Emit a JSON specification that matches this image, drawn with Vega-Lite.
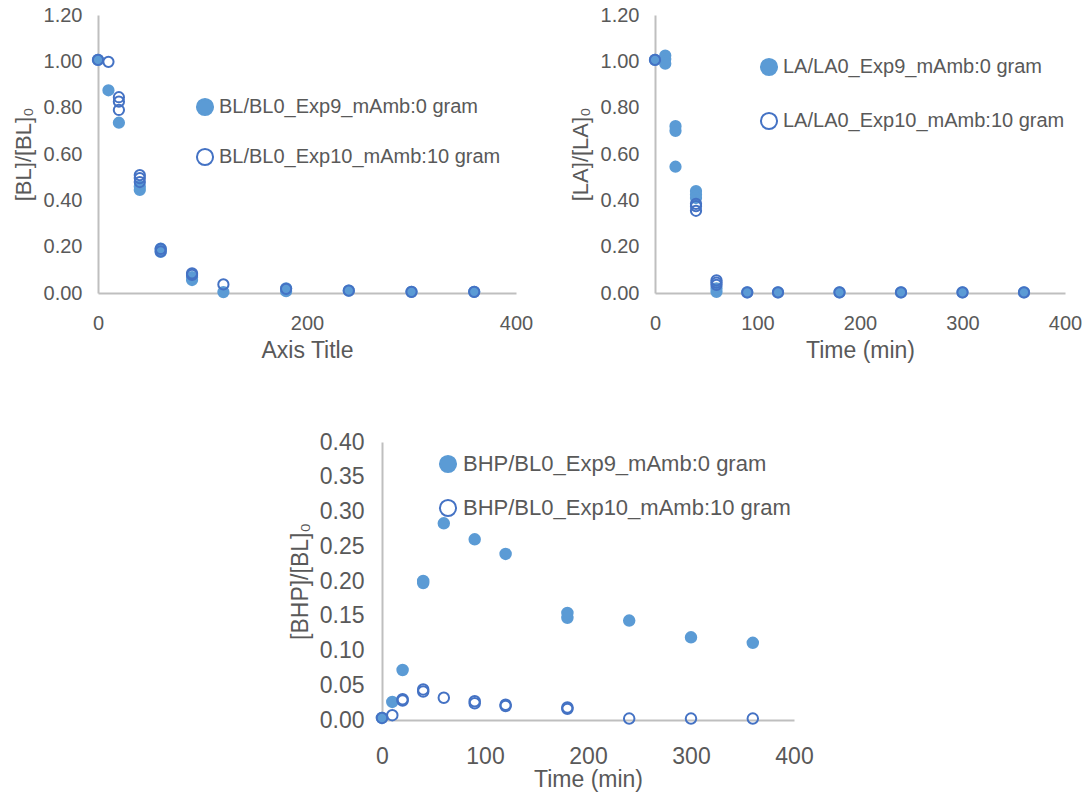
{
  "$schema": "https://vega.github.io/schema/vega-lite/v6.json",
  "background": "white",
  "padding": {"left": 12, "top": 5, "right": 2, "bottom": 5},
  "config": {
    "view": {"stroke": null},
    "font": "Liberation Sans",
    "axis": {
      "domainColor": "#BFBFBF", "domainWidth": 2, "grid": false, "ticks": false, "tickSize": 0, "labelFlush": false,
      "labelColor": "#595959", "titleColor": "#595959", "titleFontWeight": "normal",
      "labelFont": "Liberation Sans", "titleFont": "Liberation Sans"
    },
    "legend": {
      "labelColor": "#595959", "labelFont": "Liberation Sans", "symbolType": "circle", "labelLimit": 0,
      "symbolSize": 260, "symbolStrokeWidth": 2, "labelOffset": 4, "padding": 0, "title": null
    }
  },
  "datasets": {
    "d": [
      {"panel": "BL", "series": "BL/BL0_Exp9_mAmb:0 gram", "time": 0, "value": 1.006},
      {"panel": "BL", "series": "BL/BL0_Exp9_mAmb:0 gram", "time": 10, "value": 0.875},
      {"panel": "BL", "series": "BL/BL0_Exp9_mAmb:0 gram", "time": 20, "value": 0.735},
      {"panel": "BL", "series": "BL/BL0_Exp9_mAmb:0 gram", "time": 40, "value": 0.445},
      {"panel": "BL", "series": "BL/BL0_Exp9_mAmb:0 gram", "time": 40, "value": 0.46},
      {"panel": "BL", "series": "BL/BL0_Exp9_mAmb:0 gram", "time": 60, "value": 0.177},
      {"panel": "BL", "series": "BL/BL0_Exp9_mAmb:0 gram", "time": 60, "value": 0.192},
      {"panel": "BL", "series": "BL/BL0_Exp9_mAmb:0 gram", "time": 90, "value": 0.056},
      {"panel": "BL", "series": "BL/BL0_Exp9_mAmb:0 gram", "time": 90, "value": 0.068},
      {"panel": "BL", "series": "BL/BL0_Exp9_mAmb:0 gram", "time": 120, "value": 0.004},
      {"panel": "BL", "series": "BL/BL0_Exp9_mAmb:0 gram", "time": 180, "value": 0.008},
      {"panel": "BL", "series": "BL/BL0_Exp9_mAmb:0 gram", "time": 180, "value": 0.02},
      {"panel": "BL", "series": "BL/BL0_Exp9_mAmb:0 gram", "time": 240, "value": 0.01},
      {"panel": "BL", "series": "BL/BL0_Exp9_mAmb:0 gram", "time": 300, "value": 0.005},
      {"panel": "BL", "series": "BL/BL0_Exp9_mAmb:0 gram", "time": 360, "value": 0.005},
      {"panel": "BL", "series": "BL/BL0_Exp10_mAmb:10 gram", "time": 0, "value": 1.006},
      {"panel": "BL", "series": "BL/BL0_Exp10_mAmb:10 gram", "time": 10, "value": 0.998},
      {"panel": "BL", "series": "BL/BL0_Exp10_mAmb:10 gram", "time": 20, "value": 0.845},
      {"panel": "BL", "series": "BL/BL0_Exp10_mAmb:10 gram", "time": 20, "value": 0.826},
      {"panel": "BL", "series": "BL/BL0_Exp10_mAmb:10 gram", "time": 20, "value": 0.79},
      {"panel": "BL", "series": "BL/BL0_Exp10_mAmb:10 gram", "time": 40, "value": 0.509},
      {"panel": "BL", "series": "BL/BL0_Exp10_mAmb:10 gram", "time": 40, "value": 0.496},
      {"panel": "BL", "series": "BL/BL0_Exp10_mAmb:10 gram", "time": 40, "value": 0.479},
      {"panel": "BL", "series": "BL/BL0_Exp10_mAmb:10 gram", "time": 60, "value": 0.18},
      {"panel": "BL", "series": "BL/BL0_Exp10_mAmb:10 gram", "time": 60, "value": 0.19},
      {"panel": "BL", "series": "BL/BL0_Exp10_mAmb:10 gram", "time": 90, "value": 0.078},
      {"panel": "BL", "series": "BL/BL0_Exp10_mAmb:10 gram", "time": 90, "value": 0.085},
      {"panel": "BL", "series": "BL/BL0_Exp10_mAmb:10 gram", "time": 120, "value": 0.037},
      {"panel": "BL", "series": "BL/BL0_Exp10_mAmb:10 gram", "time": 180, "value": 0.018},
      {"panel": "BL", "series": "BL/BL0_Exp10_mAmb:10 gram", "time": 240, "value": 0.01},
      {"panel": "BL", "series": "BL/BL0_Exp10_mAmb:10 gram", "time": 300, "value": 0.005},
      {"panel": "BL", "series": "BL/BL0_Exp10_mAmb:10 gram", "time": 360, "value": 0.005},

      {"panel": "LA", "series": "LA/LA0_Exp9_mAmb:0 gram", "time": 0, "value": 1.006},
      {"panel": "LA", "series": "LA/LA0_Exp9_mAmb:0 gram", "time": 10, "value": 1.025},
      {"panel": "LA", "series": "LA/LA0_Exp9_mAmb:0 gram", "time": 10, "value": 1.01},
      {"panel": "LA", "series": "LA/LA0_Exp9_mAmb:0 gram", "time": 10, "value": 0.99},
      {"panel": "LA", "series": "LA/LA0_Exp9_mAmb:0 gram", "time": 20, "value": 0.72},
      {"panel": "LA", "series": "LA/LA0_Exp9_mAmb:0 gram", "time": 20, "value": 0.70},
      {"panel": "LA", "series": "LA/LA0_Exp9_mAmb:0 gram", "time": 20, "value": 0.545},
      {"panel": "LA", "series": "LA/LA0_Exp9_mAmb:0 gram", "time": 40, "value": 0.44},
      {"panel": "LA", "series": "LA/LA0_Exp9_mAmb:0 gram", "time": 40, "value": 0.425},
      {"panel": "LA", "series": "LA/LA0_Exp9_mAmb:0 gram", "time": 40, "value": 0.41},
      {"panel": "LA", "series": "LA/LA0_Exp9_mAmb:0 gram", "time": 60, "value": 0.005},
      {"panel": "LA", "series": "LA/LA0_Exp9_mAmb:0 gram", "time": 60, "value": 0.02},
      {"panel": "LA", "series": "LA/LA0_Exp9_mAmb:0 gram", "time": 90, "value": 0.003},
      {"panel": "LA", "series": "LA/LA0_Exp9_mAmb:0 gram", "time": 120, "value": 0.003},
      {"panel": "LA", "series": "LA/LA0_Exp9_mAmb:0 gram", "time": 180, "value": 0.003},
      {"panel": "LA", "series": "LA/LA0_Exp9_mAmb:0 gram", "time": 240, "value": 0.003},
      {"panel": "LA", "series": "LA/LA0_Exp9_mAmb:0 gram", "time": 300, "value": 0.003},
      {"panel": "LA", "series": "LA/LA0_Exp9_mAmb:0 gram", "time": 360, "value": 0.003},
      {"panel": "LA", "series": "LA/LA0_Exp10_mAmb:10 gram", "time": 0, "value": 1.006},
      {"panel": "LA", "series": "LA/LA0_Exp10_mAmb:10 gram", "time": 40, "value": 0.385},
      {"panel": "LA", "series": "LA/LA0_Exp10_mAmb:10 gram", "time": 40, "value": 0.375},
      {"panel": "LA", "series": "LA/LA0_Exp10_mAmb:10 gram", "time": 40, "value": 0.355},
      {"panel": "LA", "series": "LA/LA0_Exp10_mAmb:10 gram", "time": 60, "value": 0.055},
      {"panel": "LA", "series": "LA/LA0_Exp10_mAmb:10 gram", "time": 60, "value": 0.045},
      {"panel": "LA", "series": "LA/LA0_Exp10_mAmb:10 gram", "time": 60, "value": 0.035},
      {"panel": "LA", "series": "LA/LA0_Exp10_mAmb:10 gram", "time": 90, "value": 0.003},
      {"panel": "LA", "series": "LA/LA0_Exp10_mAmb:10 gram", "time": 120, "value": 0.003},
      {"panel": "LA", "series": "LA/LA0_Exp10_mAmb:10 gram", "time": 180, "value": 0.003},
      {"panel": "LA", "series": "LA/LA0_Exp10_mAmb:10 gram", "time": 240, "value": 0.003},
      {"panel": "LA", "series": "LA/LA0_Exp10_mAmb:10 gram", "time": 300, "value": 0.003},
      {"panel": "LA", "series": "LA/LA0_Exp10_mAmb:10 gram", "time": 360, "value": 0.003},

      {"panel": "BHP", "series": "BHP/BL0_Exp9_mAmb:0 gram", "time": 0, "value": 0.003},
      {"panel": "BHP", "series": "BHP/BL0_Exp9_mAmb:0 gram", "time": 10, "value": 0.026},
      {"panel": "BHP", "series": "BHP/BL0_Exp9_mAmb:0 gram", "time": 20, "value": 0.072},
      {"panel": "BHP", "series": "BHP/BL0_Exp9_mAmb:0 gram", "time": 40, "value": 0.197},
      {"panel": "BHP", "series": "BHP/BL0_Exp9_mAmb:0 gram", "time": 40, "value": 0.2},
      {"panel": "BHP", "series": "BHP/BL0_Exp9_mAmb:0 gram", "time": 60, "value": 0.283},
      {"panel": "BHP", "series": "BHP/BL0_Exp9_mAmb:0 gram", "time": 90, "value": 0.26},
      {"panel": "BHP", "series": "BHP/BL0_Exp9_mAmb:0 gram", "time": 120, "value": 0.239},
      {"panel": "BHP", "series": "BHP/BL0_Exp9_mAmb:0 gram", "time": 180, "value": 0.147},
      {"panel": "BHP", "series": "BHP/BL0_Exp9_mAmb:0 gram", "time": 180, "value": 0.154},
      {"panel": "BHP", "series": "BHP/BL0_Exp9_mAmb:0 gram", "time": 240, "value": 0.143},
      {"panel": "BHP", "series": "BHP/BL0_Exp9_mAmb:0 gram", "time": 300, "value": 0.119},
      {"panel": "BHP", "series": "BHP/BL0_Exp9_mAmb:0 gram", "time": 360, "value": 0.111},
      {"panel": "BHP", "series": "BHP/BL0_Exp10_mAmb:10 gram", "time": 0, "value": 0.003},
      {"panel": "BHP", "series": "BHP/BL0_Exp10_mAmb:10 gram", "time": 10, "value": 0.007},
      {"panel": "BHP", "series": "BHP/BL0_Exp10_mAmb:10 gram", "time": 20, "value": 0.028},
      {"panel": "BHP", "series": "BHP/BL0_Exp10_mAmb:10 gram", "time": 20, "value": 0.03},
      {"panel": "BHP", "series": "BHP/BL0_Exp10_mAmb:10 gram", "time": 40, "value": 0.041},
      {"panel": "BHP", "series": "BHP/BL0_Exp10_mAmb:10 gram", "time": 40, "value": 0.044},
      {"panel": "BHP", "series": "BHP/BL0_Exp10_mAmb:10 gram", "time": 60, "value": 0.032},
      {"panel": "BHP", "series": "BHP/BL0_Exp10_mAmb:10 gram", "time": 90, "value": 0.024},
      {"panel": "BHP", "series": "BHP/BL0_Exp10_mAmb:10 gram", "time": 90, "value": 0.027},
      {"panel": "BHP", "series": "BHP/BL0_Exp10_mAmb:10 gram", "time": 120, "value": 0.02},
      {"panel": "BHP", "series": "BHP/BL0_Exp10_mAmb:10 gram", "time": 120, "value": 0.022},
      {"panel": "BHP", "series": "BHP/BL0_Exp10_mAmb:10 gram", "time": 180, "value": 0.016},
      {"panel": "BHP", "series": "BHP/BL0_Exp10_mAmb:10 gram", "time": 180, "value": 0.018},
      {"panel": "BHP", "series": "BHP/BL0_Exp10_mAmb:10 gram", "time": 240, "value": 0.002},
      {"panel": "BHP", "series": "BHP/BL0_Exp10_mAmb:10 gram", "time": 300, "value": 0.002},
      {"panel": "BHP", "series": "BHP/BL0_Exp10_mAmb:10 gram", "time": 360, "value": 0.002}
    ]
  },
  "spacing": 69,
  "resolve": {"scale": {"fill": "independent", "stroke": "independent"}, "legend": {"fill": "independent", "stroke": "independent"}},
  "vconcat": [
    {
      "spacing": 36,
      "resolve": {"scale": {"fill": "independent", "stroke": "independent"}, "legend": {"fill": "independent", "stroke": "independent"}},
      "hconcat": [
        {
          "width": 418, "height": 278,
          "data": {"name": "d"},
          "transform": [{"filter": "datum.panel === 'BL'"}],
          "mark": {"type": "circle", "size": 105, "strokeWidth": 2, "opacity": 1},
          "encoding": {
            "x": {"field": "time", "type": "quantitative", "scale": {"domain": [0, 400], "nice": false},
              "axis": {"values": [0, 200, 400], "title": "Axis Title", "labelFontSize": 20, "titleFontSize": 23, "labelPadding": 20, "titlePadding": 6}},
            "y": {"field": "value", "type": "quantitative", "scale": {"domain": [0, 1.2], "nice": false},
              "axis": {"values": [0, 0.2, 0.4, 0.6, 0.8, 1.0, 1.2], "format": ".2f", "title": "[BL]/[BL]₀", "labelFontSize": 20, "titleFontSize": 22, "labelPadding": 16, "titlePadding": 8}},
            "fill": {"field": "series", "type": "nominal", "sort": null,
              "scale": {"domain": ["BL/BL0_Exp9_mAmb:0 gram", "BL/BL0_Exp10_mAmb:10 gram"], "range": ["#5B9BD5", "transparent"]},
              "legend": {"orient": "none", "legendX": 97, "legendY": 82, "labelFontSize": 20, "rowPadding": 24}},
            "stroke": {"field": "series", "type": "nominal", "sort": null,
              "scale": {"domain": ["BL/BL0_Exp9_mAmb:0 gram", "BL/BL0_Exp10_mAmb:10 gram"], "range": ["#5B9BD5", "#4472C4"]},
              "legend": {"orient": "none", "legendX": 97, "legendY": 82, "labelFontSize": 20, "rowPadding": 24}}
          }
        },
        {
          "width": 410, "height": 278,
          "data": {"name": "d"},
          "transform": [{"filter": "datum.panel === 'LA'"}],
          "mark": {"type": "circle", "size": 105, "strokeWidth": 2, "opacity": 1},
          "encoding": {
            "x": {"field": "time", "type": "quantitative", "scale": {"domain": [0, 400], "nice": false},
              "axis": {"values": [0, 100, 200, 300, 400], "title": "Time (min)", "labelFontSize": 20, "titleFontSize": 23, "labelPadding": 20, "titlePadding": 6}},
            "y": {"field": "value", "type": "quantitative", "scale": {"domain": [0, 1.2], "nice": false},
              "axis": {"values": [0, 0.2, 0.4, 0.6, 0.8, 1.0, 1.2], "format": ".2f", "title": "[LA]/[LA]₀", "labelFontSize": 20, "titleFontSize": 22, "labelPadding": 16, "titlePadding": 8}},
            "fill": {"field": "series", "type": "nominal", "sort": null,
              "scale": {"domain": ["LA/LA0_Exp9_mAmb:0 gram", "LA/LA0_Exp10_mAmb:10 gram"], "range": ["#5B9BD5", "transparent"]},
              "legend": {"orient": "none", "legendX": 104, "legendY": 42, "labelFontSize": 20, "rowPadding": 28}},
            "stroke": {"field": "series", "type": "nominal", "sort": null,
              "scale": {"domain": ["LA/LA0_Exp9_mAmb:0 gram", "LA/LA0_Exp10_mAmb:10 gram"], "range": ["#5B9BD5", "#4472C4"]},
              "legend": {"orient": "none", "legendX": 104, "legendY": 42, "labelFontSize": 20, "rowPadding": 28}}
          }
        }
      ]
    },
    {
      "spacing": 0,
      "resolve": {"scale": {"fill": "independent", "stroke": "independent"}, "legend": {"fill": "independent", "stroke": "independent"}},
      "hconcat": [
        {"width": 191, "height": 10, "data": {"values": []}, "mark": {"type": "point", "opacity": 0}, "encoding": {}},
        {
          "width": 412, "height": 278,
          "data": {"name": "d"},
          "transform": [{"filter": "datum.panel === 'BHP'"}],
          "mark": {"type": "circle", "size": 110, "strokeWidth": 2, "opacity": 1},
          "encoding": {
            "x": {"field": "time", "type": "quantitative", "scale": {"domain": [0, 400], "nice": false},
              "axis": {"values": [0, 100, 200, 300, 400], "title": "Time (min)", "labelFontSize": 23, "titleFontSize": 23, "labelPadding": 25, "titlePadding": 0}},
            "y": {"field": "value", "type": "quantitative", "scale": {"domain": [0, 0.4], "nice": false},
              "axis": {"values": [0, 0.05, 0.1, 0.15, 0.2, 0.25, 0.3, 0.35, 0.4], "format": ".2f", "title": "[BHP]/[BL]₀", "labelFontSize": 23, "titleFontSize": 23, "labelPadding": 18, "titlePadding": 7}},
            "fill": {"field": "series", "type": "nominal", "sort": null,
              "scale": {"domain": ["BHP/BL0_Exp9_mAmb:0 gram", "BHP/BL0_Exp10_mAmb:10 gram"], "range": ["#5B9BD5", "transparent"]},
              "legend": {"orient": "none", "legendX": 55, "legendY": 11, "labelFontSize": 22, "rowPadding": 18}},
            "stroke": {"field": "series", "type": "nominal", "sort": null,
              "scale": {"domain": ["BHP/BL0_Exp9_mAmb:0 gram", "BHP/BL0_Exp10_mAmb:10 gram"], "range": ["#5B9BD5", "#4472C4"]},
              "legend": {"orient": "none", "legendX": 55, "legendY": 11, "labelFontSize": 22, "rowPadding": 18}}
          }
        }
      ]
    }
  ]
}
